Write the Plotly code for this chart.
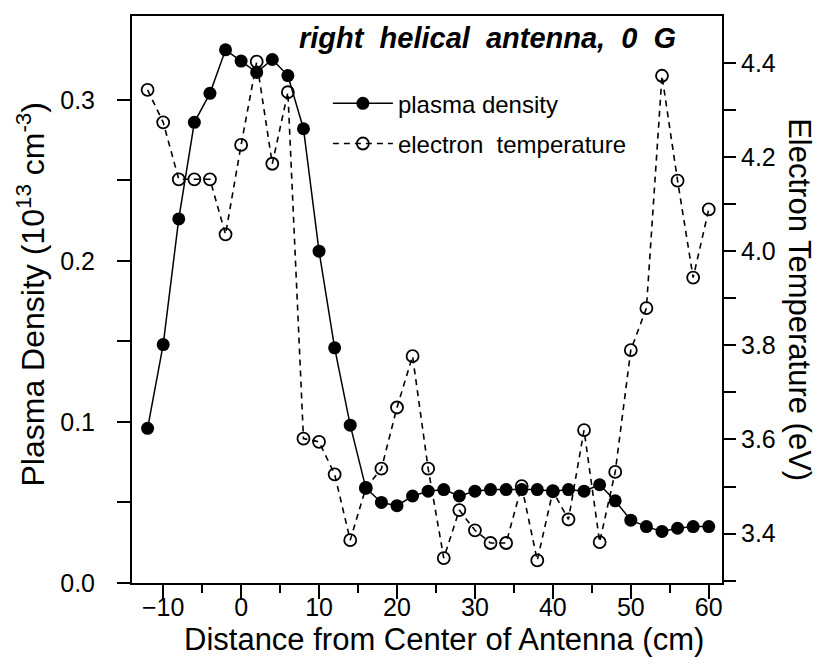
import plotly.graph_objects as go

# ---- data ----
distance_cm = [-12, -10, -8, -6, -4, -2, 0, 2, 4, 6, 8, 10, 12, 14, 16, 18, 20, 22, 24,
               26, 28, 30, 32, 34, 36, 38, 40, 42, 44, 46, 48, 50, 52, 54, 56, 58, 60]

plasma_density = [0.096, 0.148, 0.226, 0.286, 0.304, 0.331, 0.324, 0.317, 0.325, 0.315,
                  0.282, 0.206, 0.146, 0.098, 0.059, 0.050, 0.048, 0.054, 0.057, 0.058,
                  0.054, 0.057, 0.058, 0.058, 0.058, 0.058, 0.057, 0.058, 0.057, 0.061,
                  0.051, 0.039, 0.035, 0.032, 0.034, 0.035, 0.035]

electron_temperature = [4.343, 4.274, 4.153, 4.153, 4.153, 4.036, 4.226, 4.403, 4.186, 4.338,
                        3.602, 3.595, 3.526, 3.386, 3.497, 3.538, 3.668, 3.777, 3.538, 3.348,
                        3.450, 3.407, 3.380, 3.380, 3.501, 3.343, 3.490, 3.430, 3.620, 3.382,
                        3.531, 3.790, 3.879, 4.373, 4.150, 3.944, 4.089]

x_tick_vals = [-10, 0, 10, 20, 30, 40, 50, 60]
y_tick_vals = [0.0, 0.1, 0.2, 0.3]
y2_tick_vals = [3.4, 3.6, 3.8, 4.0, 4.2, 4.4]

FONT = "Liberation Sans, Arial, Helvetica, sans-serif"

fig = go.Figure()

fig.add_trace(go.Scatter(
    x=distance_cm, y=plasma_density, name="plasma density",
    mode="lines+markers", legendgroup="a",
    line=dict(color="black", width=1.5),
    marker=dict(symbol="circle", size=13, color="black"),
    yaxis="y",
))

fig.add_trace(go.Scatter(
    x=distance_cm, y=electron_temperature, name="electron  temperature",
    mode="lines+markers", legendgroup="b",
    line=dict(color="black", width=1.6, dash="6px,5px"),
    marker=dict(symbol="circle-open", size=12, color="black", line=dict(width=1.8, color="black")),
    yaxis="y2",
))

fig.update_layout(
    width=826, height=668,
    margin=dict(l=132, r=104, t=16, b=85),
    paper_bgcolor="white", plot_bgcolor="white",
    font=dict(family=FONT, color="black", size=24),
    showlegend=True,
    legend=dict(
        x=0.332, y=0.885, xanchor="left", yanchor="top",
        bgcolor="rgba(0,0,0,0)", borderwidth=0,
        font=dict(size=24, family=FONT, color="black"),
        itemwidth=60, tracegroupgap=6,
    ),
    xaxis=dict(
        range=[-14, 61.7], tickvals=x_tick_vals, ticks="outside", ticklen=14, tickwidth=2,
        tickcolor="black", showline=True, linecolor="black", linewidth=2, mirror=True,
        showgrid=False, zeroline=False, tickfont=dict(size=25), ticklabelstandoff=-13,
        minor=dict(dtick=5, tick0=0, ticks="outside", ticklen=8, tickwidth=2, tickcolor="black", showgrid=False),
    ),
    yaxis=dict(
        range=[0, 0.352], tickvals=y_tick_vals, ticktext=["0.0", "0.1", "0.2", "0.3"],
        ticks="outside", ticklen=13, tickwidth=2, tickcolor="black",
        showline=True, linecolor="black", linewidth=2, showgrid=False, zeroline=False,
        tickfont=dict(size=25), ticklabelstandoff=17,
        minor=dict(tickvals=[0.05, 0.15, 0.25], ticks="outside", ticklen=13, tickwidth=2, tickcolor="black", showgrid=False),
    ),
    yaxis2=dict(
        overlaying="y", side="right",
        range=[3.295, 4.50], tickvals=y2_tick_vals, ticktext=["3.4", "3.6", "3.8", "4.0", "4.2", "4.4"],
        ticks="outside", ticklen=12, tickwidth=2, tickcolor="black",
        showline=True, linecolor="black", linewidth=2, showgrid=False, zeroline=False,
        tickfont=dict(size=25), ticklabelstandoff=0,
        minor=dict(tickvals=[3.3, 3.5, 3.7, 3.9, 4.1, 4.3], ticks="outside", ticklen=12, tickwidth=2, tickcolor="black", showgrid=False),
    ),
    annotations=[
        dict(text="<b><i>right&nbsp; helical&nbsp; antenna,&nbsp; 0&nbsp; G</i></b>",
             xref="paper", yref="paper", x=0.925, y=0.961, xanchor="right", yanchor="middle",
             showarrow=False, font=dict(size=29, family=FONT, color="black")),
        dict(text="Distance from Center of Antenna (cm)",
             xref="paper", yref="paper", x=0.529, y=-0.1, xanchor="center", yanchor="middle",
             showarrow=False, font=dict(size=31, family=FONT, color="black")),
        dict(text="Plasma Density (10<sup>13</sup> cm<sup>-3</sup>)",
             xref="paper", yref="paper", x=-0.172, y=0.508, xanchor="center", yanchor="middle",
             textangle=-90, showarrow=False, font=dict(size=32, family=FONT, color="black")),
        dict(text="Electron Temperature (eV)",
             xref="paper", yref="paper", x=1.132, y=0.499, xanchor="center", yanchor="middle",
             textangle=90, showarrow=False, font=dict(size=31, family=FONT, color="black")),
    ],
)

fig.write_html("out.html")
